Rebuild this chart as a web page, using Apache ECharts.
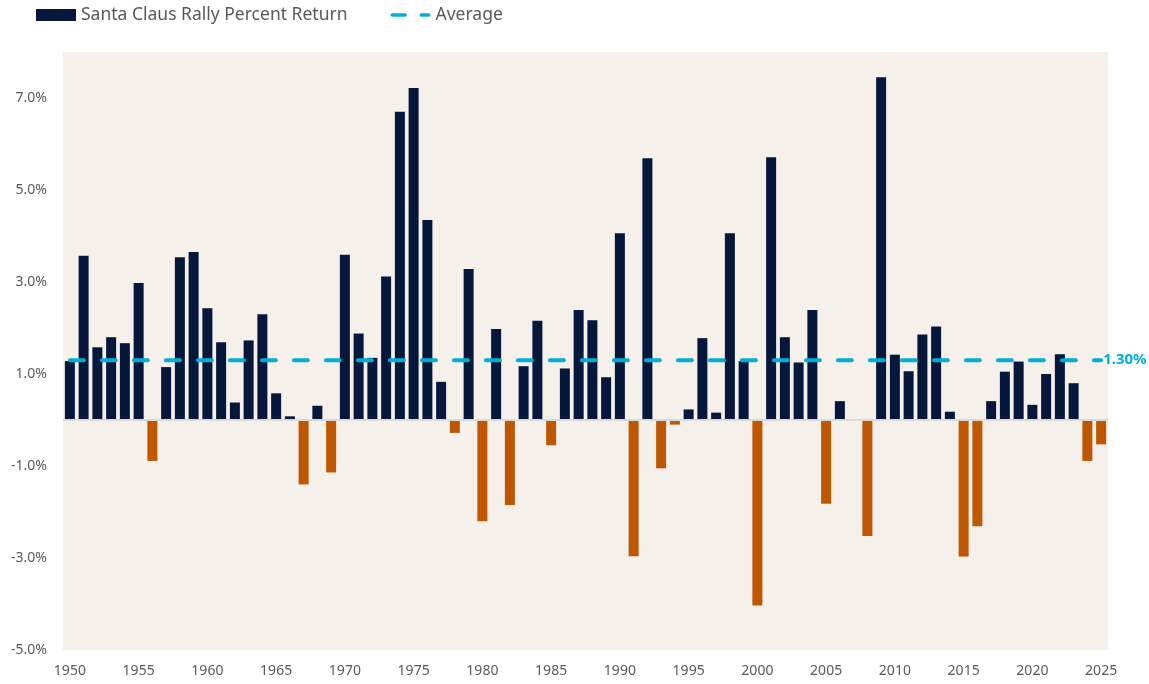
<!DOCTYPE html>
<html>
<head>
<meta charset="utf-8">
<script src="https://cdn.jsdelivr.net/npm/echarts@6/dist/echarts.min.js"></script>
<style>
  html, body { margin: 0; padding: 0; background: #fff; }
  #main { width: 1149px; height: 684px; }
</style>
</head>
<body>
<div id="main"></div>
<script>
// years 1950..2025
var years = [];
for (var y = 1950; y <= 2025; y++) years.push(String(y));

// santa claus rally % return (2007 has no bar)
var returns = [
  1.28, 3.57, 1.58, 1.80, 1.67, 2.98, -0.89, 1.15, 3.54, 3.65,
  2.43, 1.69, 0.38, 1.73, 2.30, 0.58, 0.08, -1.40, 0.31, -1.14,
  3.59, 1.88, 1.35, 3.12, 6.70, 7.22, 4.35, 0.83, -0.28, 3.28,
  -2.20, 1.98, -1.85, 1.17, 2.16, -0.55, 1.12, 2.39, 2.17, 0.93,
  4.06, -2.96, 5.69, -1.05, -0.10, 0.23, 1.78, 0.16, 4.06, 1.28,
  -4.03, 5.71, 1.80, 1.25, 2.39, -1.82, 0.41, null, -2.52, 7.45,
  1.42, 1.06, 1.86, 2.03, 0.18, -2.97, -2.31, 0.41, 1.05, 1.27,
  0.33, 1.00, 1.43, 0.80, -0.89, -0.53
];

var AVERAGE = 1.30;
var yTicks = [-5, -3, -1, 1, 3, 5, 7];

var NAVY = '#05173a';
var ORANGE = '#bf5700';
var CYAN = '#00afd7';
var GREY = '#595959';

// two rounded dashes for the "Average" legend key
var dashIcon = 'path://M2,0H16A2,2 0 0 1 16,4H2A2,2 0 0 1 2,0Z' +
  'M34,0H42A2,2 0 0 1 42,4H34A2,2 0 0 1 34,0Z';

var chart = echarts.init(document.getElementById('main'));
chart.setOption({
  animation: false,
  textStyle: { fontFamily: 'Noto Sans' },
  legend: {
    left: 31,
    top: 1,
    itemWidth: 40,
    itemHeight: 12,
    itemGap: 43,
    textStyle: { fontSize: 17.5, color: GREY },
    data: [
      { name: 'Santa Claus Rally Percent Return', icon: 'rect', itemStyle: { color: NAVY } },
      { name: 'Average', icon: dashIcon, itemStyle: { color: CYAN } }
    ]
  },
  grid: {
    left: 63,
    right: 41,
    top: 52,
    bottom: 34,
    show: true,
    backgroundColor: '#f6f0eb',
    borderWidth: 0
  },
  xAxis: {
    type: 'category',
    data: years,
    axisLine: { show: false, onZero: false },
    axisTick: { show: false },
    axisLabel: { interval: 4, color: GREY, fontSize: 14, margin: 14 }
  },
  yAxis: {
    type: 'value',
    min: -5,
    max: 8,
    interval: 1,
    splitLine: { show: false },
    axisLine: { show: false },
    axisTick: { show: false },
    axisLabel: {
      color: GREY,
      fontSize: 14,
      margin: 16,
      formatter: function (v) {
        return yTicks.indexOf(v) >= 0 ? v.toFixed(1) + '%' : '';
      }
    }
  },
  series: [
    {
      name: 'Santa Claus Rally Percent Return',
      type: 'bar',
      data: returns,
      barWidth: 10,
      itemStyle: {
        color: function (p) { return p.value < 0 ? ORANGE : NAVY; }
      },
      markLine: {
        silent: true,
        symbol: 'none',
        label: { show: false },
        lineStyle: { color: '#d9d9d9', type: 'solid', width: 2 },
        data: [{ yAxis: 0 }]
      }
    },
    {
      name: 'Average',
      type: 'line',
      data: years.map(function () { return AVERAGE; }),
      symbol: 'none',
      z: 5,
      lineStyle: { color: CYAN, width: 4, type: [14, 18], cap: 'round' },
      itemStyle: { color: CYAN },
      endLabel: {
        show: true,
        formatter: AVERAGE.toFixed(2) + '%',
        color: CYAN,
        fontWeight: 'bold',
        fontSize: 15,
        distance: 2
      }
    }
  ]
});
</script>
</body>
</html>
